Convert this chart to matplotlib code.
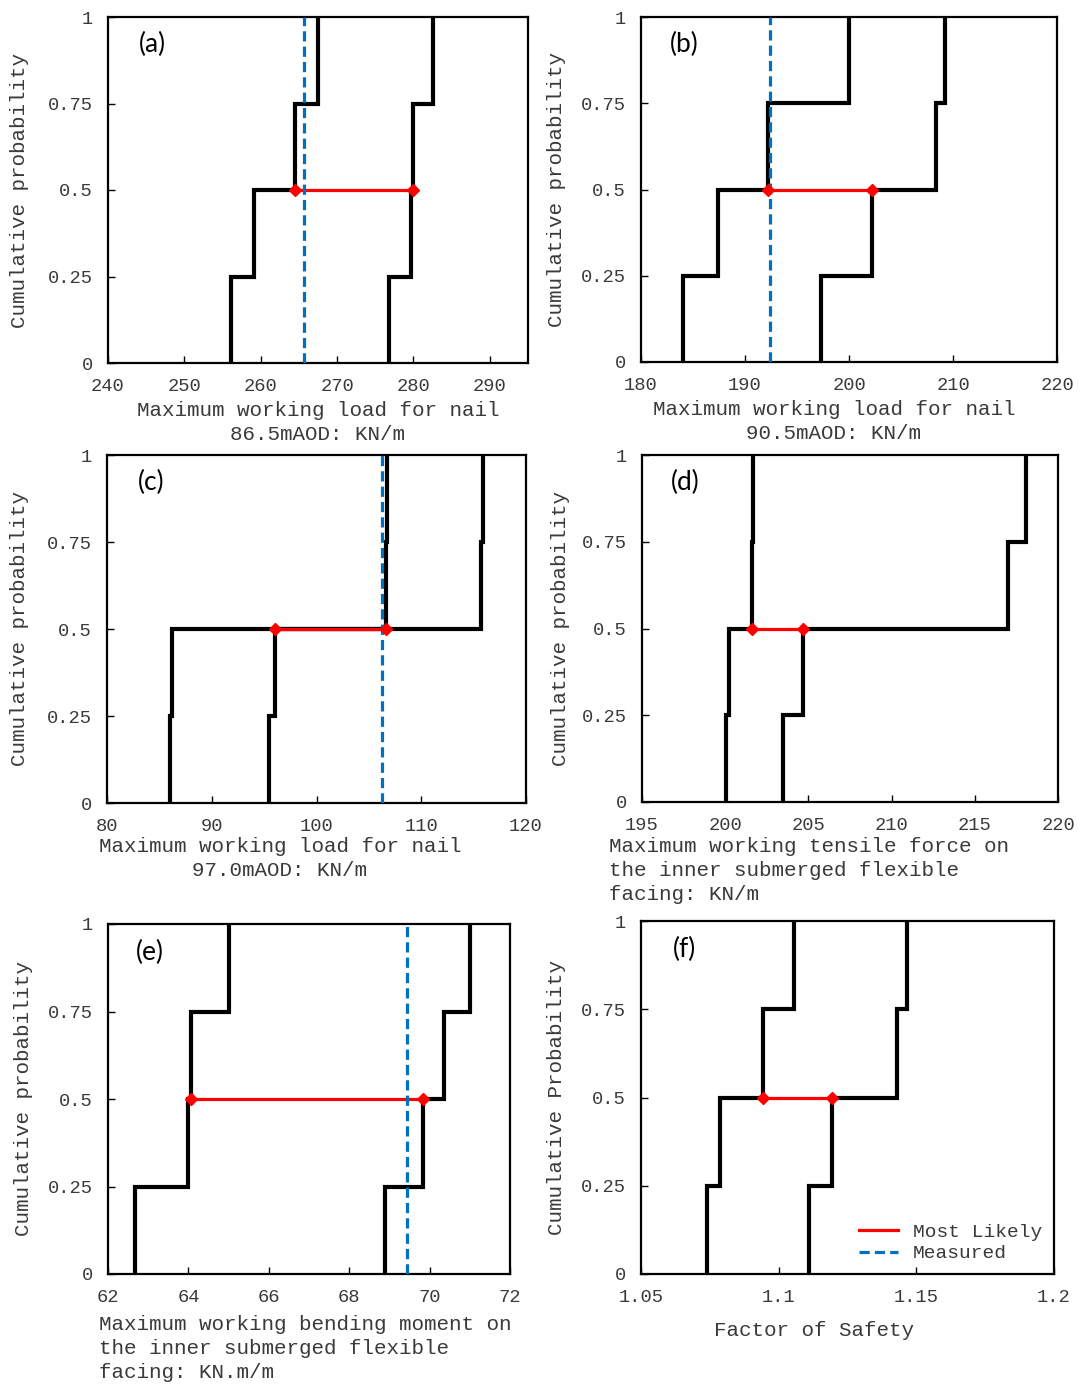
import matplotlib
matplotlib.use("Agg")
import matplotlib.pyplot as plt
from matplotlib.lines import Line2D

# ---------------- data ----------------
prob_levels = [0, 0.25, 0.5, 0.75, 1]
y_ticks = [0, 0.25, 0.5, 0.75, 1]
y_tick_labels = ["0", "0.25", "0.5", "0.75", "1"]

# (a)
a_left = [256.1, 259.1, 264.5, 267.5]
a_right = [276.8, 279.7, 279.9, 282.5]
a_most_likely = [264.5, 279.9]
a_measured = 265.7
a_xticks = [240, 250, 260, 270, 280, 290]
a_xticklabels = ["240", "250", "260", "270", "280", "290"]

# (b)
b_left = [184.0, 187.4, 192.2, 200.0]
b_right = [197.3, 202.2, 208.4, 209.2]
b_most_likely = [192.2, 202.2]
b_measured = 192.4
b_xticks = [180, 190, 200, 210, 220]
b_xticklabels = ["180", "190", "200", "210", "220"]

# (c)
c_left = [86.0, 86.2, 106.6, 106.7]
c_right = [95.5, 96.0, 115.7, 115.9]
c_most_likely = [96.0, 106.6]
c_measured = 106.3
c_xticks = [80, 90, 100, 110, 120]
c_xticklabels = ["80", "90", "100", "110", "120"]

# (d)
d_left = [200.05, 200.2, 201.6, 201.7]
d_right = [203.5, 204.7, 217.0, 218.1]
d_most_likely = [201.6, 204.7]
d_measured = None
d_xticks = [195, 200, 205, 210, 215, 220]
d_xticklabels = ["195", "200", "205", "210", "215", "220"]

# (e)
e_left = [62.66, 64.0, 64.06, 65.0]
e_right = [68.9, 69.83, 70.35, 71.0]
e_most_likely = [64.06, 69.83]
e_measured = 69.45
e_xticks = [62, 64, 66, 68, 70, 72]
e_xticklabels = ["62", "64", "66", "68", "70", "72"]

# (f)
f_left = [1.074, 1.0788, 1.0943, 1.1054]
f_right = [1.1109, 1.1194, 1.1431, 1.1467]
f_most_likely = [1.0943, 1.1194]
f_measured = None
f_xticks = [1.05, 1.1, 1.15, 1.2]
f_xticklabels = ["1.05", "1.1", "1.15", "1.2"]

panel_letters = ["(a)", "(b)", "(c)", "(d)", "(e)", "(f)"]
xlims = [(240, 295), (180, 220), (80, 120), (195, 220), (62, 72), (1.05, 1.2)]
ylabels = ["Cumulative probability"] * 5 + ["Cumulative Probability"]
xlabels = [
    "Maximum working load for nail\n86.5mAOD: KN/m",
    "Maximum working load for nail\n90.5mAOD: KN/m",
    "Maximum working load for nail\n97.0mAOD: KN/m",
    "Maximum working tensile force on\nthe inner submerged flexible\nfacing: KN/m",
    "Maximum working bending moment on\nthe inner submerged flexible\nfacing: KN.m/m",
    "Factor of Safety",
]
legend_labels = ["Most Likely", "Measured"]

# ---------------- layout (pixels) ----------------
W, H = 1078, 1390
boxes = [  # left, top, right, bottom
    (108, 17, 528, 363),
    (641, 17, 1057, 362),
    (107, 455, 526, 803),
    (642, 455, 1058, 802),
    (108, 924, 510, 1274),
    (641, 921, 1054, 1274),
]
# xlabel anchor: (x px, y px of first line top, ha)
xlabel_pos = [
    (318, 401, "center"),
    (834, 400, "center"),
    (280, 837, "center"),
    (609, 837, "left"),
    (99, 1315, "left"),
    (814, 1321, "center"),
]
ylabel_x = [20, 556, 20, 561, 24, 556]

mono = "Liberation Mono"
txt_color = "#3a3a3a"
RED = "#FF0000"
BLUE = "#0070C0"

fig = plt.figure(figsize=(W / 100, H / 100), dpi=100)
fig.patch.set_facecolor("white")

panels = [
    (a_left, a_right, a_most_likely, a_measured, a_xticks, a_xticklabels),
    (b_left, b_right, b_most_likely, b_measured, b_xticks, b_xticklabels),
    (c_left, c_right, c_most_likely, c_measured, c_xticks, c_xticklabels),
    (d_left, d_right, d_most_likely, d_measured, d_xticks, d_xticklabels),
    (e_left, e_right, e_most_likely, e_measured, e_xticks, e_xticklabels),
    (f_left, f_right, f_most_likely, f_measured, f_xticks, f_xticklabels),
]

for i, (lft, rgt, ml, meas, xt, xtl) in enumerate(panels):
    l, t, r, b = boxes[i]
    ax = fig.add_axes([l / W, 1 - b / H, (r - l) / W, (b - t) / H])
    for bound in (lft, rgt):
        ax.stairs(bound, prob_levels, orientation="horizontal", baseline=None,
                  color="black", lw=3.0, zorder=2)
    ax.plot(ml, [0.5, 0.5], color=RED, lw=2.3, zorder=3, solid_capstyle="butt")
    if meas is not None:
        ax.axvline(meas, color=BLUE, lw=2.3, ls=(0, (3.2, 1.6)), zorder=4)
    ax.plot(ml, [0.5, 0.5], ls="none", marker="D", color=RED, ms=6.5, zorder=5)

    ax.set_xlim(*xlims[i])
    ax.set_ylim(0, 1)
    ax.set_xticks(xt)
    ax.set_xticklabels(xtl)
    ax.set_yticks(y_ticks)
    ax.set_yticklabels(y_tick_labels)
    ax.tick_params(direction="in", length=5, width=1, pad=11, labelsize=13.5,
                   labelcolor=txt_color, top=False, right=False)
    for lab in ax.get_xticklabels() + ax.get_yticklabels():
        lab.set_fontfamily(mono)
    for sp in ax.spines.values():
        sp.set_linewidth(1.6)
        sp.set_color("black")

    ax.text(0.105, 0.92, panel_letters[i], transform=ax.transAxes,
            fontsize=19, family="Lato", ha="center", va="center", color="black")

    xpx, ypx, ha = xlabel_pos[i]
    fig.text(xpx / W, 1 - ypx / H, xlabels[i], ha=ha, va="top",
             multialignment=ha, family=mono, fontsize=15, color=txt_color,
             linespacing=1.33)
    fig.text(ylabel_x[i] / W, 1 - ((t + b) / 2) / H, ylabels[i], rotation=90,
             ha="center", va="center", family=mono, fontsize=15, color=txt_color)

    if i == 5:
        handles = [Line2D([], [], color=RED, lw=2.3),
                   Line2D([], [], color=BLUE, lw=2.3, ls=(0, (3.2, 1.6)))]
        leg = ax.legend(handles, legend_labels, loc="lower right", frameon=False,
                        prop={"family": mono, "size": 14}, handlelength=2.0,
                        handletextpad=0.8, labelspacing=0.2, borderaxespad=0.2,
                        bbox_to_anchor=(1.0, 0.0))
        for tx in leg.get_texts():
            tx.set_color(txt_color)

fig.savefig("out.png", dpi=100, facecolor="white")
